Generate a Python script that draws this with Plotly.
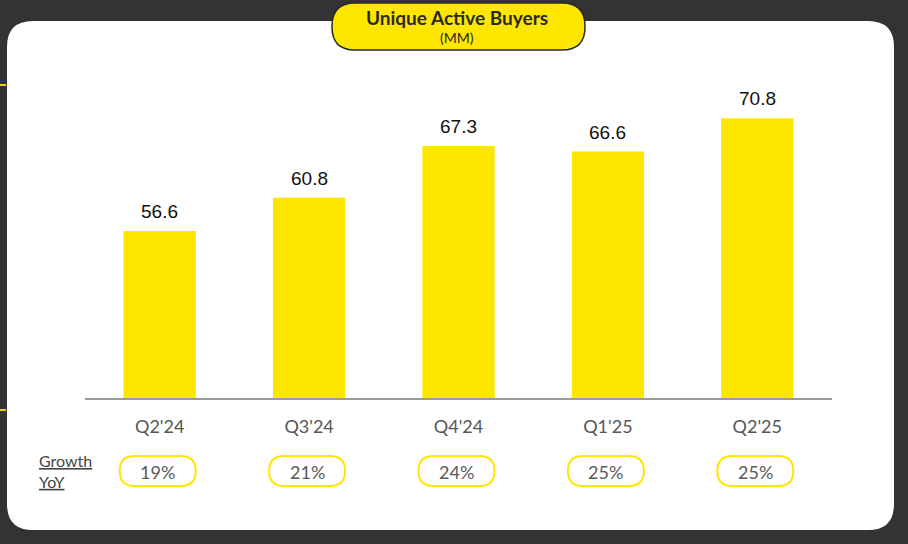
import plotly.graph_objects as go

categories = ["Q2'24", "Q3'24", "Q4'24", "Q1'25", "Q2'25"]
buyers = [56.6, 60.8, 67.3, 66.6, 70.8]
growth_yoy = ["19%", "21%", "24%", "25%", "25%"]
title_main = "Unique Active Buyers"
title_sub = "(MM)"

W, H = 908, 544
YELLOW = "#FFE600"


def px(x):
    return x / W


def py(y):
    return 1 - y / H


def rrect_paper(x0, y0, x1, y1, r):
    rx, ry = r / W, r / H
    X0, X1 = px(x0), px(x1)
    Yt, Yb = py(y0), py(y1)
    return (f"M {X0+rx},{Yt} L {X1-rx},{Yt} Q {X1},{Yt} {X1},{Yt-ry} "
            f"L {X1},{Yb+ry} Q {X1},{Yb} {X1-rx},{Yb} L {X0+rx},{Yb} "
            f"Q {X0},{Yb} {X0},{Yb+ry} L {X0},{Yt-ry} Q {X0},{Yt} {X0+rx},{Yt} Z")


def pill_mixed(xc, half_w_units, r_units, y0px, y1px):
    ry = (y1px - y0px) / 2 / H
    Yt, Yb = py(y0px), py(y1px)
    X0, X1 = xc - half_w_units, xc + half_w_units
    rx = r_units
    return (f"M {X0+rx},{Yt} L {X1-rx},{Yt} Q {X1},{Yt} {X1},{Yt-ry} "
            f"Q {X1},{Yb} {X1-rx},{Yb} L {X0+rx},{Yb} "
            f"Q {X0},{Yb} {X0},{Yb+ry} Q {X0},{Yt} {X0+rx},{Yt} Z")


fig = go.Figure()
fig.add_trace(go.Bar(
    x=list(range(len(categories))), y=buyers,
    marker=dict(color=YELLOW, line=dict(width=0)),
    width=0.484, hoverinfo="skip",
))

shapes = []
shapes.append(dict(type="path", xref="paper", yref="paper", layer="below",
                   path=rrect_paper(7, 21, 894, 530, 26),
                   fillcolor="white", line=dict(width=0)))
for yy in (85, 410):
    shapes.append(dict(type="line", xref="paper", yref="paper",
                       x0=0, x1=px(6), y0=py(yy), y1=py(yy),
                       line=dict(color="#E8D200", width=2)))
shapes.append(dict(type="path", xref="paper", yref="paper",
                   path=rrect_paper(332, 3, 585, 50, 23),
                   fillcolor=YELLOW, line=dict(color="#2a2a2a", width=1.5)))

unit_px = 747 / 5.0
for i in range(len(categories)):
    shapes.append(dict(type="path", xref="x", yref="paper",
                       path=pill_mixed(i - 2 / unit_px, 38 / unit_px, 15 / unit_px, 456, 486),
                       fillcolor="white", line=dict(color=YELLOW, width=2)))

annotations = [
    dict(x=0.503, y=py(18), xref="paper", yref="paper", xanchor="center",
         yanchor="middle", text=f"<b>{title_main}</b>", showarrow=False,
         font=dict(family="Lato", size=19, color="#2a2a2a")),
    dict(x=0.503, y=py(38), xref="paper", yref="paper", xanchor="center",
         yanchor="middle", text=title_sub, showarrow=False,
         font=dict(family="Lato", size=14, color="#2a2a2a")),
    dict(x=px(37), y=py(471), xref="paper", yref="paper", xanchor="left",
         yanchor="middle", align="left", text="<u>Growth</u><br><u>YoY</u>",
         showarrow=False, font=dict(family="Lato", size=16, color="#444444")),
]
for i, v in enumerate(buyers):
    annotations.append(dict(x=i, y=v, xref="x", yref="y", xanchor="center",
                            yanchor="bottom", yshift=7, text=f"{v:.1f}",
                            showarrow=False,
                            font=dict(family="Liberation Sans", size=19, color="#111111")))
for i, g in enumerate(growth_yoy):
    annotations.append(dict(x=i - 2 / unit_px, y=py(472), xref="x", yref="paper",
                            xanchor="center", yanchor="middle", text=g,
                            showarrow=False,
                            font=dict(family="Lato", size=18, color="#5a5a5a")))

fig.update_layout(
    width=W, height=H,
    margin=dict(l=0, r=0, t=0, b=0),
    paper_bgcolor="#333333", plot_bgcolor="rgba(0,0,0,0)",
    showlegend=False,
    shapes=shapes, annotations=annotations,
    xaxis=dict(domain=[px(85), px(832)], range=[-0.5, 4.5],
               tickmode="array", tickvals=list(range(len(categories))),
               ticktext=categories, showgrid=False, zeroline=False,
               showline=True, linecolor="#9a9a9a", linewidth=1.5,
               ticks="", ticklabelstandoff=12,
               tickfont=dict(family="Lato", size=18, color="#555555"),
               fixedrange=True),
    yaxis=dict(domain=[py(398), py(60)], range=[35.6, 35.6 + (398 - 60) / 7.95],
               visible=False, fixedrange=True),
)

fig.write_html("out.html", config={"displayModeBar": False},
               post_script="document.body.style.margin='0px';document.body.style.overflow='hidden';")
